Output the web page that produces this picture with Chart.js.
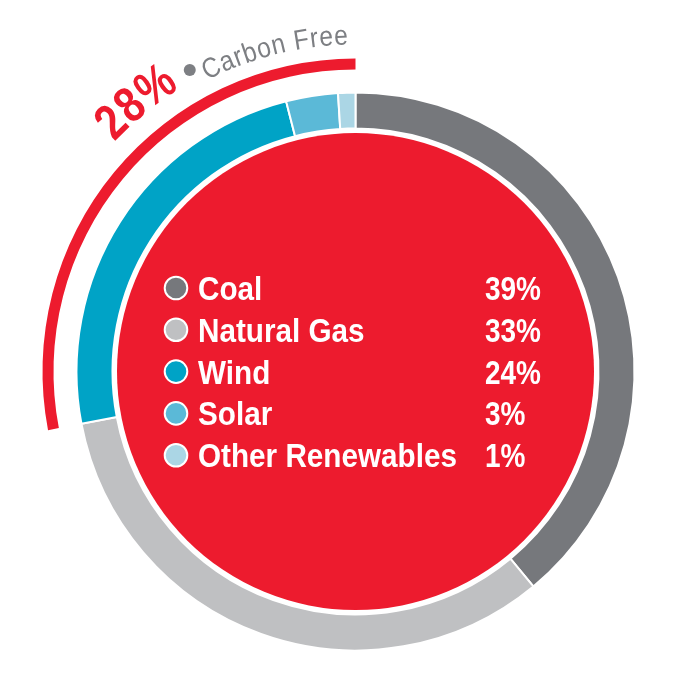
<!DOCTYPE html>
<html><head><meta charset="utf-8">
<script src="https://cdn.jsdelivr.net/npm/chart.js@4/dist/chart.umd.min.js"></script>
<style>html,body{margin:0;padding:0;background:#fff;overflow:hidden}</style>
</head><body>
<canvas id="c" width="700" height="681" style="display:block;width:700px;height:681px"></canvas>
<script>
// ---- data ----
const categories = ['Coal', 'Natural Gas', 'Wind', 'Solar', 'Other Renewables'];
const shares = [39, 33, 24, 3, 1];
const shareLabels = ['39%', '33%', '24%', '3%', '1%'];
const carbonFreeShare = [28];
const carbonFreeLabel = ['28%', 'Carbon Free'];
// ---- styles ----
const sliceColors = ['#76787c', '#bfc0c2', '#00a3c6', '#5bb9d7', '#abd6e5'];
const RED = '#ed1b2e';
const GRAY_TXT = '#7d7f83';
const SANS = "'Liberation Sans', Arial, sans-serif";

// opts: {hs} fixed horizontal scale, spacing computed; or {tracking} fixed spacing, scale computed
function drawArcText(ctx, text, cx, cy, r, a0, a1, font, color, opts) {
  ctx.save();
  ctx.font = font; ctx.fillStyle = color;
  const chars = [...text];
  const nat = chars.map(c => ctx.measureText(c).width);
  const natTotal = nat.reduce((a, b) => a + b, 0);
  const arcLen = (a1 - a0) * Math.PI / 180 * r;
  let hs, tracking;
  if (opts.hs !== undefined) {
    hs = opts.hs;
    tracking = chars.length > 1 ? (arcLen - natTotal * hs) / (chars.length - 1) : 0;
  } else {
    tracking = opts.tracking;
    hs = (arcLen - tracking * (chars.length - 1)) / natTotal;
  }
  let s = 0;
  chars.forEach((c, i) => {
    const w = nat[i] * hs;
    const ang = a0 * Math.PI / 180 + (s + w / 2) / r;
    ctx.save();
    ctx.translate(cx + r * Math.sin(ang), cy - r * Math.cos(ang));
    ctx.rotate(ang);
    ctx.scale(hs, 1);
    ctx.textAlign = 'center'; ctx.textBaseline = 'alphabetic';
    ctx.fillText(c, 0, 0);
    ctx.restore();
    s += w + tracking;
  });
  ctx.restore();
}

const decor = {
  id: 'decor',
  beforeDatasetsDraw(chart) {
    const arc = chart.getDatasetMeta(2).data[0];
    const ctx = chart.ctx;
    ctx.save();
    ctx.beginPath();
    ctx.arc(arc.x, arc.y, 238.5, 0, Math.PI * 2);
    ctx.fillStyle = RED; ctx.fill();
    ctx.restore();
  },
  afterDatasetsDraw(chart) {
    const arc = chart.getDatasetMeta(2).data[0];
    const cx = arc.x, cy = arc.y;
    const ctx = chart.ctx;
    // curved title
    drawArcText(ctx, carbonFreeLabel[0], cx, cy, 333, -46.4, -31.8, 'bold 50px ' + SANS, RED, { tracking: 1 });
    const da = -28.8 * Math.PI / 180;
    ctx.save();
    ctx.beginPath();
    ctx.arc(cx + 344 * Math.sin(da), cy - 344 * Math.cos(da), 6, 0, Math.PI * 2);
    ctx.fillStyle = GRAY_TXT; ctx.fill();
    ctx.restore();
    drawArcText(ctx, carbonFreeLabel[1], cx, cy, 327, -27.0, -1.3, '28px ' + SANS, GRAY_TXT, { hs: 0.88 });
    // center legend
    ctx.save();
    ctx.font = 'bold 33px ' + SANS;
    const hs = 259 / ctx.measureText(categories[4]).width;
    const hsP = 56 / ctx.measureText(shareLabels[0]).width;
    categories.forEach((name, i) => {
      const y = cy - 83.5 + i * 41.8;
      ctx.beginPath();
      ctx.arc(176, y, 11.3, 0, Math.PI * 2);
      ctx.fillStyle = sliceColors[i]; ctx.fill();
      ctx.lineWidth = 2; ctx.strokeStyle = '#ffffff'; ctx.stroke();
      ctx.fillStyle = '#ffffff';
      ctx.textAlign = 'left'; ctx.textBaseline = 'alphabetic';
      ctx.save(); ctx.translate(198, y + 12); ctx.scale(hs, 1);
      ctx.fillText(name, 0, 0); ctx.restore();
      ctx.save(); ctx.translate(485, y + 12); ctx.scale(hsP, 1);
      ctx.fillText(shareLabels[i], 0, 0); ctx.restore();
    });
    ctx.restore();
  }
};

new Chart(document.getElementById('c'), {
  type: 'doughnut',
  data: {
    labels: categories,
    datasets: [
      { data: [100 - carbonFreeShare[0], carbonFreeShare[0]], backgroundColor: ['rgba(0,0,0,0)', RED], borderWidth: 0, weight: 11, clip: false },
      { data: [1], backgroundColor: ['rgba(0,0,0,0)'], borderWidth: 0, weight: 23, clip: false },
      { data: shares, backgroundColor: sliceColors, borderColor: '#ffffff', borderWidth: 2, weight: 36, clip: false }
    ]
  },
  options: {
    responsive: false,
    animation: false,
    devicePixelRatio: 1,
    radius: 313,
    cutout: (243 / 313 * 100) + '%',
    layout: { padding: { left: 11, right: 0, top: 62, bottom: 0 } },
    plugins: { legend: { display: false }, tooltip: { enabled: false }, title: { display: false } },
    events: []
  },
  plugins: [decor]
});
</script>
</body></html>
